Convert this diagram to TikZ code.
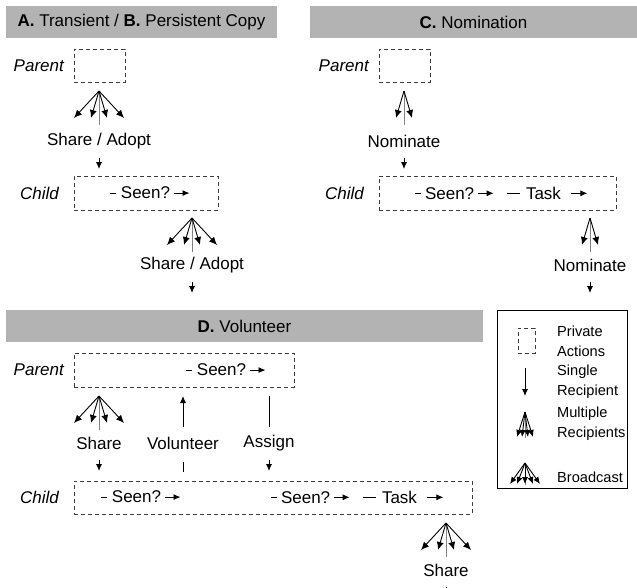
\documentclass[tikz,border=0pt]{standalone}
\usepackage{fontspec}
\setmainfont{Liberation Sans}
\usetikzlibrary{arrows.meta}
\definecolor{hdrgray}{RGB}{179,179,179}
\definecolor{dashgray}{RGB}{60,60,60}
\definecolor{stemgray}{RGB}{130,130,130}
\newcommand{\inarr}{\tikz[baseline=-0.34em]\draw[line width=0.9pt,-{Latex[length=7pt,width=6pt]}] (0pt,0pt)--(16pt,0pt);}
\newcommand{\sdash}{\tikz[baseline=-0.34em]\draw[line width=0.9pt] (0pt,0pt)--(6pt,0pt);}
\newcommand{\ldash}{\tikz[baseline=-0.34em]\draw[line width=0.9pt] (0pt,0pt)--(13pt,0pt);}
\newcommand{\seen}{\sdash\hspace{4pt}Seen?\hspace{3pt}\inarr}
\newcommand{\seentask}{\seen\hspace{12pt}\ldash\hspace{6pt}Task\hspace{10pt}\inarr}
\begin{document}
\begin{tikzpicture}[x=1pt,y=-1pt,
  every node/.style={font=\fontsize{17}{20}\selectfont, inner sep=0pt},
  hdr/.style={fill=hdrgray, draw=none, inner sep=0pt},
  pbox/.style={draw=dashgray, dash pattern=on 4pt off 3pt, line width=0.9pt, inner sep=0pt},
  arr/.style={line width=0.9pt, -{Latex[length=8pt,width=7pt]}},
  sarr/.style={line width=0.9pt, -{Latex[length=7pt,width=6pt]}},
  stem/.style={draw=stemgray, line width=0.9pt},
  role/.style={font=\fontsize{17}{20}\selectfont\itshape, anchor=east},
  leg/.style={font=\fontsize{14.6}{20}\selectfont, anchor=west, align=left},
  fanfour/.pic={\draw[stem] (0,0) -- (0,34);
    \foreach \x in {-25,-8,8,25} \draw[arr] (0,0) -- (\x,27);},
  fantwo/.pic={\draw[stem] (0,0) -- (0,34);
    \foreach \x in {-8,8} \draw[arr] (0,0) -- (\x,27);},
  multi/.pic={\draw[stem] (0,0) -- (0,26);
    \foreach \x in {-8,-3,3,8} \draw[sarr] (0,0) -- (\x,25);},
  bcast/.pic={\draw[stem] (0,0) -- (0,22);
    \foreach \x in {-15,-8,0,8,15} \draw[sarr] (0,0) -- (\x,21);}
]
\useasboundingbox (0,0) rectangle (637,587);

% ---------- Panel A/B ----------
\node[hdr, minimum width=271pt, minimum height=32pt] (ha) at (141.5,22) {};
\node (hat) at (ha.center) {\textbf{A.} Transient / \textbf{B.} Persistent Copy};
\node[pbox, minimum width=51pt, minimum height=33pt] (pa) at (99.5,65.5) {};
\node[role] (pal) at (64,66) {Parent};
\pic at (99,91) {fanfour};
\node (sa1) at (99,141) {Share / Adopt};
\draw[sarr] ([yshift=-17pt]sa1.center) -- ++(0,11);
\node[pbox, minimum width=144pt, minimum height=34pt] (ca) at (146,193) {};
\node[role] (cal) at (59,193) {Child};
\node (cat) at (150,193) {\seen};
\pic at (192,218) {fanfour};
\node (sa2) at (192,265) {Share / Adopt};
\draw[sarr] ([yshift=-17pt]sa2.center) -- ++(0,11);

% ---------- Panel C ----------
\node[hdr, minimum width=327pt, minimum height=32pt] (hc) at (473.5,22) {};
\node (hct) at (hc.center) {\textbf{C.} Nomination};
\node[pbox, minimum width=51pt, minimum height=33pt] (pc) at (404.5,65.5) {};
\node[role] (pcl) at (369,66) {Parent};
\pic at (404,91) {fantwo};
\node (nc1) at (404,141) {Nominate};
\draw[sarr] ([yshift=-17pt]nc1.center) -- ++(0,11);
\node[pbox, minimum width=237pt, minimum height=34pt] (cc) at (497.5,193) {};
\node[role] (ccl) at (364,193) {Child};
\node (cct) at (501,193) {\seentask};
\pic at (590,218) {fantwo};
\node (nc2) at (590,265) {Nominate};
\draw[sarr] ([yshift=-17pt]nc2.center) -- ++(0,11);

% ---------- Panel D ----------
\node[hdr, minimum width=477pt, minimum height=32pt] (hd) at (244.5,326) {};
\node (hdt) at (hd.center) {\textbf{D.} Volunteer};
\node[pbox, minimum width=220pt, minimum height=34pt] (pd) at (184,370) {};
\node[role] (pdl) at (64,370) {Parent};
\node (pdt) at (226,370) {\seen};
\pic at (99,396) {fanfour};
\node (shd) at (99,443) {Share};
\draw[sarr] ([yshift=-17pt]shd.center) -- ++(0,11);
\node (vol) at (183,443) {Volunteer};
\draw[sarr] ([yshift=16pt]vol.center) -- ++(0,-31);
\draw[line width=0.9pt] ([yshift=-19pt]vol.center) -- ++(0,10);
\node (asg) at (269,443) {Assign};
\draw[line width=0.9pt] ([yshift=16pt]asg.center) -- ++(0,-31);
\draw[sarr] ([yshift=-17pt]asg.center) -- ++(0,11);
\node[pbox, minimum width=398pt, minimum height=33pt] (cd) at (273,497.5) {};
\node[role] (cdl) at (59,497) {Child};
\node (cdt1) at (141,497) {\seen};
\node (cdt2) at (357,497) {\seentask};
\pic at (446,523) {fanfour};
\node (shd2) at (446,570) {Share};
\draw[sarr] ([yshift=-17pt]shd2.center) -- ++(0,11);

% ---------- Legend ----------
\node[draw=black, line width=1pt, minimum width=130pt, minimum height=178pt] (lg) at (562,399) {};
\node[pbox, minimum width=17pt, minimum height=25pt] (lgb) at (526.5,340.5) {};
\node[leg] (lt1) at (557,341) {Private\\Actions};
\coordinate (lsa) at (525,368);
\draw[sarr] (lsa) -- ++(0,28);
\node[leg] (lt2) at (557,382) {Single\\Recipient};
\pic at (525,412) {multi};
\node[leg] (lt3) at (557,424) {Multiple\\Recipients};
\pic at (525,463) {bcast};
\node[leg] (lt4) at (557,477) {Broadcast};
\end{tikzpicture}
\end{document}
